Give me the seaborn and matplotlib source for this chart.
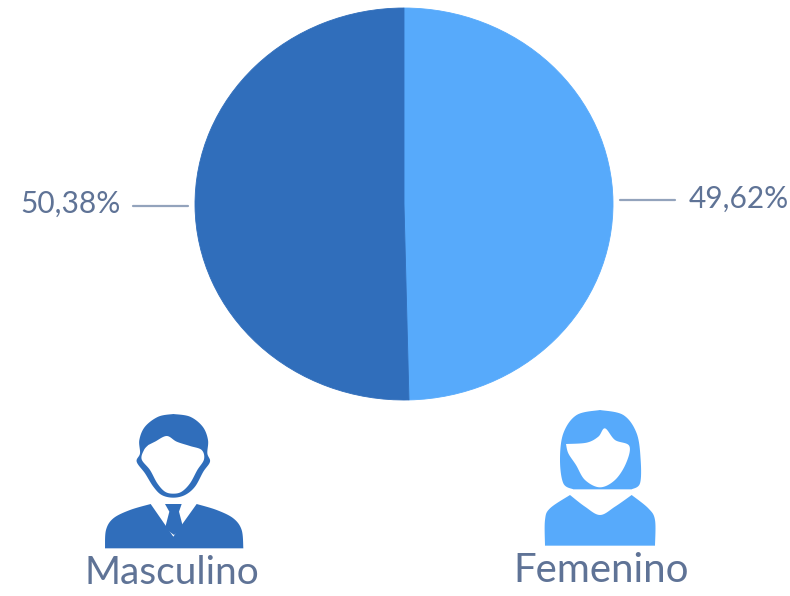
import numpy as np
import matplotlib
matplotlib.use("Agg")
import matplotlib.pyplot as plt
from matplotlib.path import Path
from matplotlib.patches import PathPatch
import seaborn as sns

categories = ["Femenino", "Masculino"]
values = [49.62, 50.38]
value_labels = ["49,62%", "50,38%"]
colors = sns.color_palette(["#57AAFB", "#306EBB"])
TEXT = "#5F7396"
LINE = "#93A3BC"

sns.set_theme(style="white")
plt.rcParams["font.family"] = ["Lato", "DejaVu Sans"]

W, H = 790, 596
fig = plt.figure(figsize=(W / 100, H / 100), dpi=100, facecolor="white")

# pie (slightly elliptical, as in the reference)
px, py, pw, ph = 195, 8, 418, 392
ax = fig.add_axes([px / W, 1 - (py + ph) / H, pw / W, ph / H])
wedges, _ = ax.pie(values, colors=colors, startangle=90, counterclock=False, radius=1)
for w in wedges:
    w.set_edgecolor(w.get_facecolor())
    w.set_linewidth(0.6)
ax.set_aspect("auto")
ax.set_xlim(-1, 1)
ax.set_ylim(-1, 1)

# overlay in pixel units for callouts and icons
ov = fig.add_axes([0, 0, 1, 1], zorder=5)
ov.set_xlim(0, W)
ov.set_ylim(H, 0)
ov.axis("off")
ov.patch.set_alpha(0)


def spline(run, n=12):
    """Open Catmull-Rom through the points of one run."""
    p = np.asarray(run, float)
    if len(p) == 2:
        return p
    e = np.vstack([p[0], p, p[-1]])
    out = []
    for i in range(1, len(e) - 2):
        a, b, c, d = e[i - 1], e[i], e[i + 1], e[i + 2]
        for t in np.linspace(0, 1, n, endpoint=False):
            out.append(0.5 * (2 * b + (c - a) * t + (2 * a - 5 * b + 4 * c - d) * t ** 2
                              + (3 * b - a - 3 * c + d) * t ** 3))
    out.append(p[-1])
    return np.array(out)


def shape(runs, origin, color, z=6):
    p = np.vstack([spline(r) for r in runs]) / 3 + np.asarray(origin)
    ov.add_patch(PathPatch(Path(np.vstack([p, p[:1]]), closed=True), fc=color, ec="none", zorder=z))


# man icon
man = (80, 400)
shape([[(280, 42), (330, 50), (368, 80), (384, 120), (382, 160), (390, 185), (370, 215), (345, 260),
        (315, 285), (280, 293), (245, 285), (220, 260), (195, 220), (170, 185), (180, 160), (178, 120),
        (195, 80), (235, 50), (280, 42)]], man, colors[1])
shape([[(205, 135), (225, 125), (260, 108), (290, 125), (330, 138), (365, 150), (372, 178), (352, 210),
        (330, 250), (305, 275), (280, 281), (255, 275), (232, 250), (210, 210), (185, 178), (192, 150),
        (205, 135)]], man, "white", z=7)
shape([[(75, 445), (78, 390), (100, 355), (150, 330), (212, 312)],
       [(212, 312), (280, 410)],
       [(280, 410), (350, 312)],
       [(350, 312), (410, 330), (460, 355), (485, 390), (490, 445)]], man, colors[1])
tie = np.array([(255, 312), (305, 312), (297, 335), (310, 385), (282, 405), (255, 385), (268, 335)]) / 3 + man
ov.add_patch(plt.Polygon(tie, closed=True, fc=colors[1], ec="none", zorder=7))

# woman icon
woman = (500, 400)
shape([[(300, 30), (370, 45), (410, 100), (422, 180), (420, 250), (395, 268)],
       [(395, 268), (220, 268)],
       [(220, 268), (190, 250), (180, 180), (190, 100), (230, 45), (300, 30)]], woman, colors[0])
shape([[(198, 132), (260, 128), (295, 110), (315, 85), (345, 120), (388, 138), (378, 190), (345, 240),
        (300, 262), (255, 240), (228, 195), (205, 160), (198, 132)]], woman, "white", z=7)
shape([[(135, 437), (135, 360), (150, 325), (210, 285)],
       [(210, 285), (255, 320), (300, 345), (345, 320), (395, 285)],
       [(395, 285), (445, 325), (465, 360), (465, 437)]], woman, colors[0])

# callouts
ov.plot([133, 188], [206, 206], color=LINE, lw=1.6, zorder=4)
ov.plot([620, 675], [200, 200], color=LINE, lw=1.6, zorder=4)
ov.text(20, 204, value_labels[1], color=TEXT, fontsize=21.5, ha="left", va="center")
ov.text(689, 199, value_labels[0], color=TEXT, fontsize=21.5, ha="left", va="center")

# category names
ov.text(172, 573, categories[1], color=TEXT, fontsize=28, ha="center", va="center")
ov.text(601, 570, categories[0], color=TEXT, fontsize=29, ha="center", va="center")

fig.savefig("out.png", dpi=100, facecolor="white")
